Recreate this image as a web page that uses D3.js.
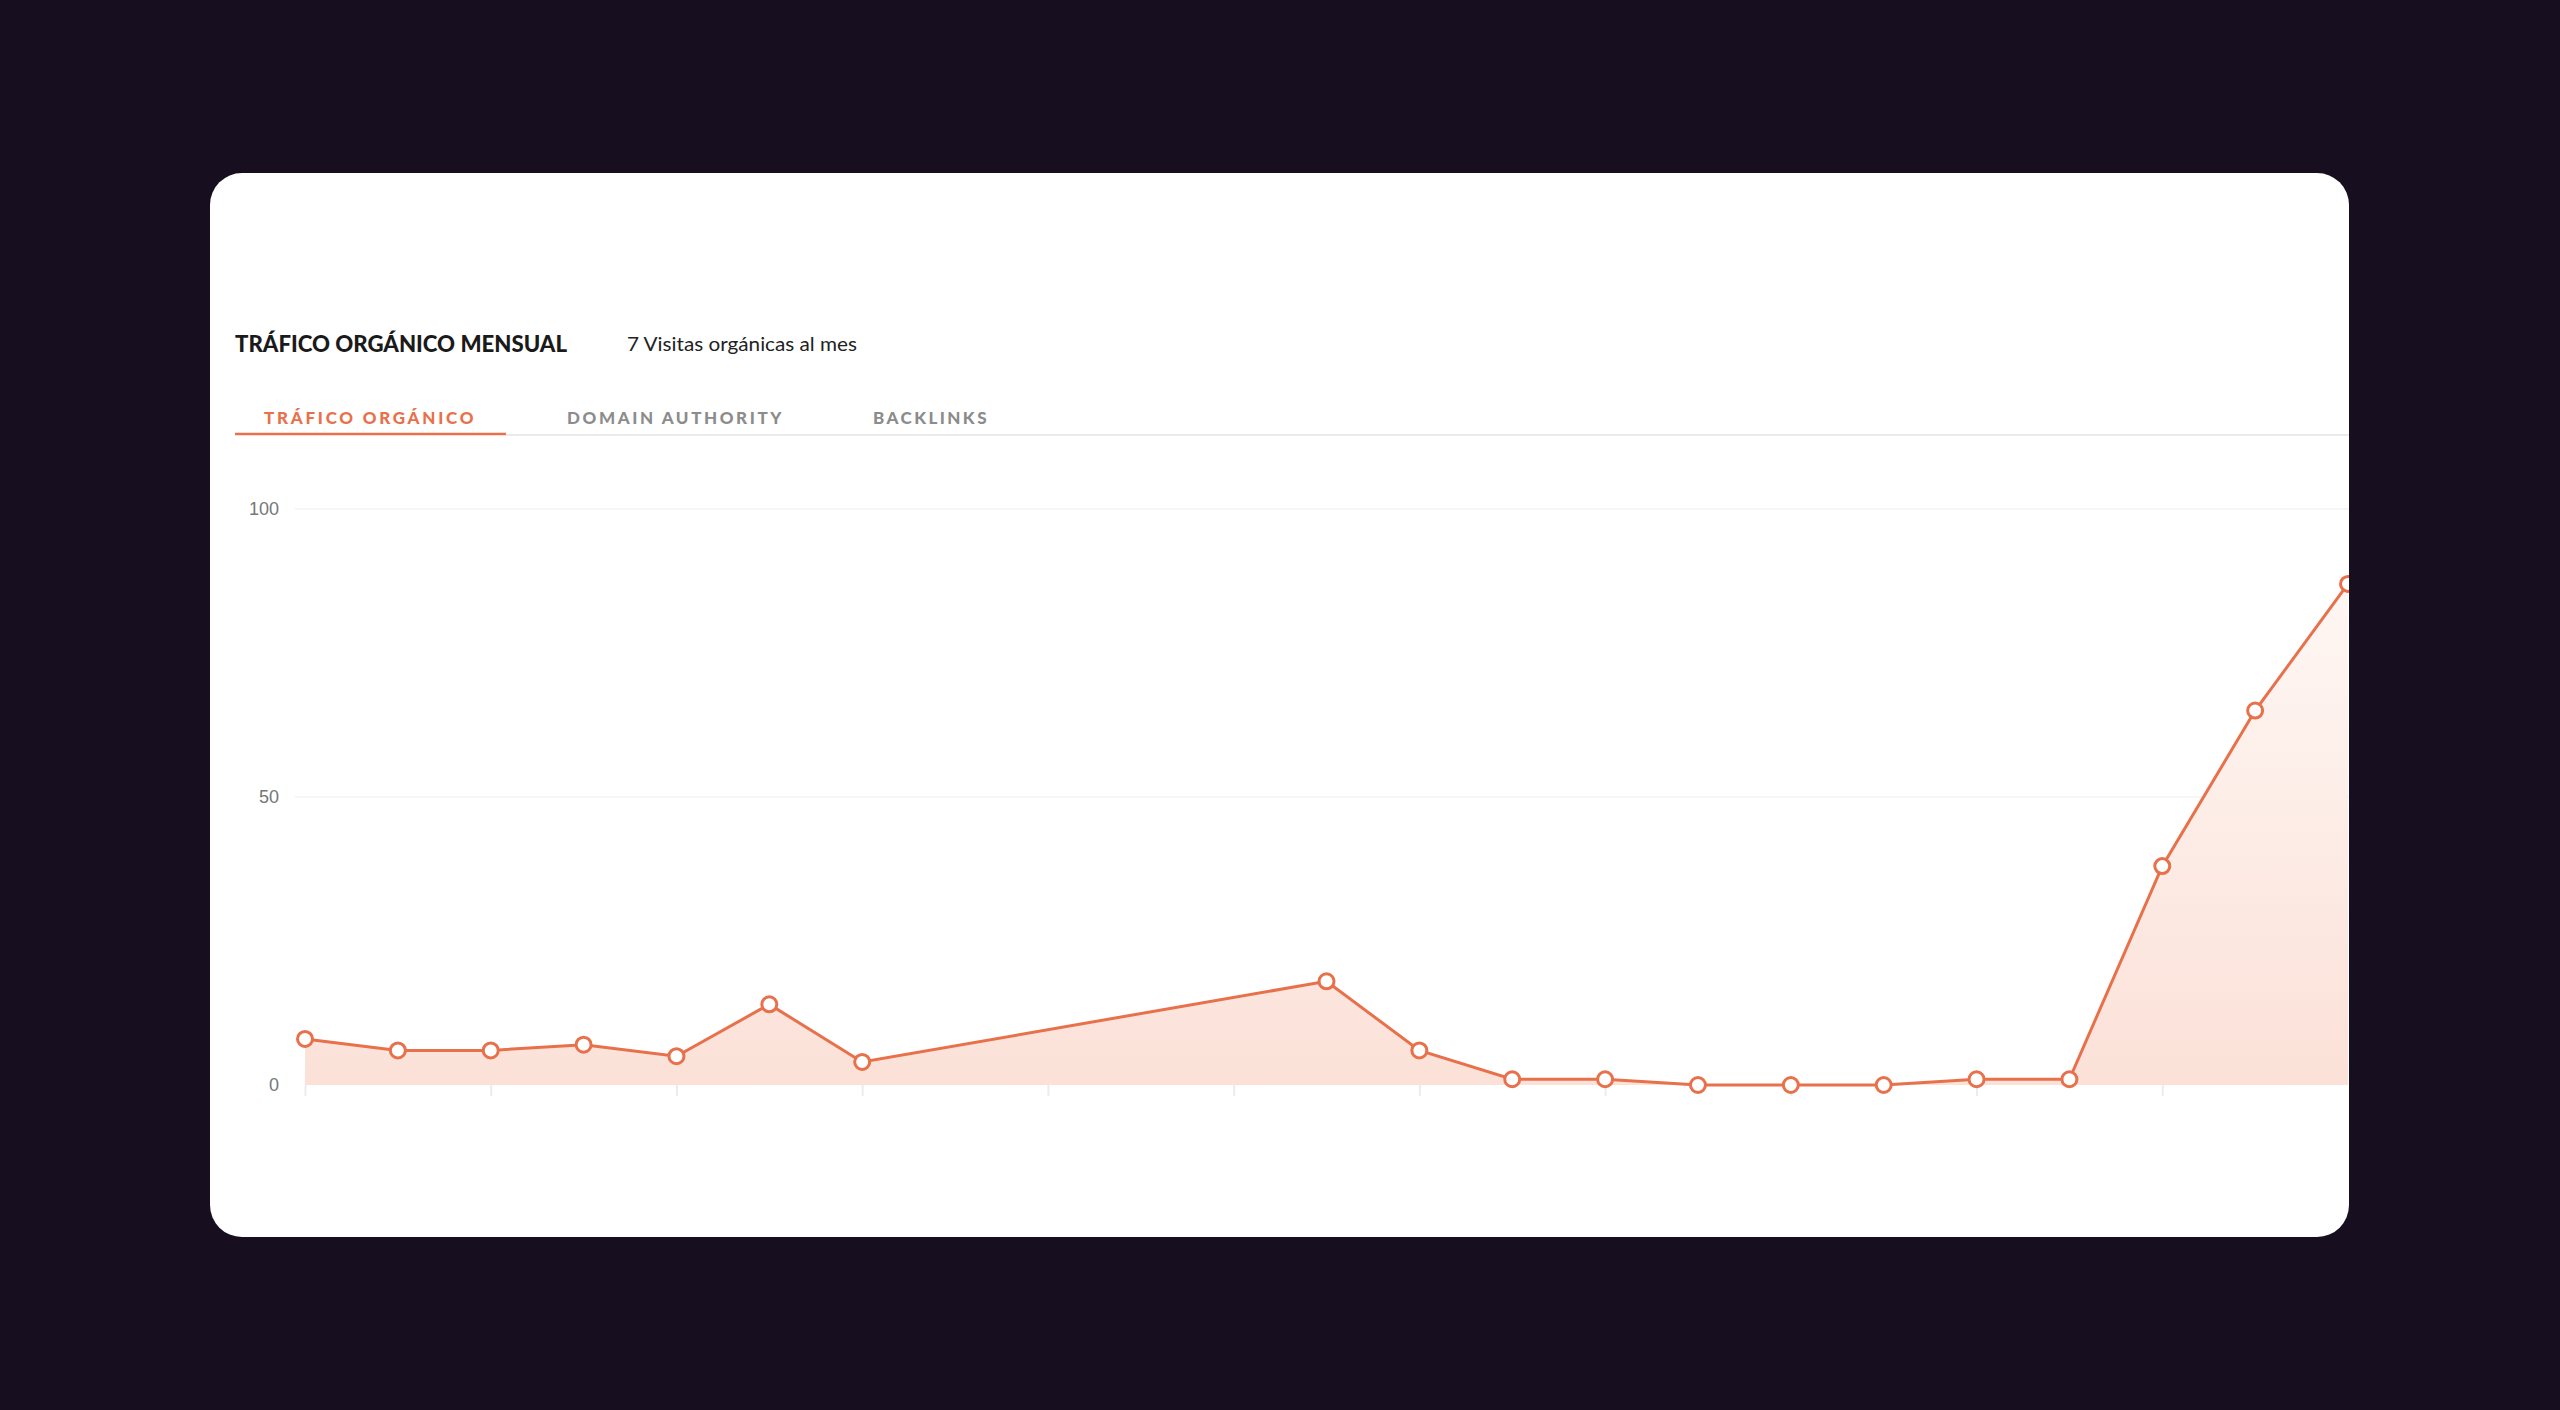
<!DOCTYPE html>
<html lang="es">
<head>
<meta charset="utf-8"/>
<title>Tráfico orgánico mensual</title>
<script src="https://d3js.org/d3.v7.min.js"></script>
<style>
html, body { margin: 0; padding: 0; background: #170f1f; }
svg { display: block; }
.title { font-family: Lato, sans-serif; font-weight: 900; font-size: 22px; fill: #1a1a1a; }
.subtitle { font-family: Lato, sans-serif; font-size: 20px; fill: #222; }
.tab { font-family: Lato, sans-serif; font-weight: 900; font-size: 17px; letter-spacing: 2.5px; fill: #8c8c8c; }
.tab.active { fill: #e8704a; }
.axis text { font-family: "Liberation Sans", Arial, sans-serif; font-size: 18px; fill: #777; }
.axis path { display: none; }
.grid line { stroke: #f6f6f6; stroke-width: 2; }
.xticks line { stroke: #ececec; stroke-width: 2; }
.line { fill: none; stroke: #e8704a; stroke-width: 3; }
.dot { fill: #fff; stroke: #e8704a; stroke-width: 3; }
</style>
</head>
<body>
<div id="chart"></div>
<script>
// data (month index from the first point)
var months = [0, 1, 2, 3, 4, 5, 6, 11, 12, 13, 14, 15, 16, 17, 18, 19, 20, 21, 22];
var visits = [8, 6, 6, 7, 5, 14, 4, 18, 6, 1, 1, 0, 0, 0, 1, 1, 38, 65, 87];
var yTicks = [0, 50, 100];
var xTicks = [0, 2, 4, 6, 8, 10, 12, 14, 16, 18, 20];
var tabs = ["TRÁFICO ORGÁNICO", "DOMAIN AUTHORITY", "BACKLINKS"];

var dataset = months.map(function(m, i){ return {month: m, value: visits[i]}; });

var W = 2560, H = 1410;
var card = {x: 210, y: 173, w: 2139, h: 1064, r: 32};

var svg = d3.select("#chart").append("svg")
            .attr("width", W)
            .attr("height", H);

var defs = svg.append("defs");
defs.append("clipPath").attr("id", "cardClip")
    .append("rect")
    .attr("x", card.x).attr("y", card.y)
    .attr("width", card.w).attr("height", card.h)
    .attr("rx", card.r);

var grad = defs.append("linearGradient")
    .attr("id", "areaFill")
    .attr("gradientUnits", "userSpaceOnUse")
    .attr("x1", 0).attr("x2", 0)
    .attr("y1", 508).attr("y2", 1085);
grad.append("stop").attr("offset", "0%").attr("stop-color", "#fffaf8");
grad.append("stop").attr("offset", "100%").attr("stop-color", "#fbe1d8");

// white card
svg.append("rect")
   .attr("x", card.x).attr("y", card.y)
   .attr("width", card.w).attr("height", card.h)
   .attr("rx", card.r)
   .attr("fill", "#fff");

// heading
svg.append("text").attr("class", "title")
   .attr("x", 235).attr("y", 352)
   .attr("textLength", 332).attr("lengthAdjust", "spacingAndGlyphs")
   .text("TRÁFICO ORGÁNICO MENSUAL");

svg.append("text").attr("class", "subtitle")
   .attr("x", 627).attr("y", 351)
   .attr("textLength", 230).attr("lengthAdjust", "spacingAndGlyphs")
   .text("7 Visitas orgánicas al mes");

// tabs
var tabX = [264, 567, 873];
var tabW = [212, 217, 116];
svg.selectAll(".tab")
   .data(tabs)
   .enter().append("text")
   .attr("class", function(d, i){ return i === 0 ? "tab active" : "tab"; })
   .attr("x", function(d, i){ return tabX[i]; })
   .attr("y", 424)
   .attr("textLength", function(d, i){ return tabW[i]; })
   .text(function(d){ return d; });

svg.append("line")
   .attr("x1", 506).attr("x2", card.x + card.w)
   .attr("y1", 435).attr("y2", 435)
   .attr("stroke", "#ebebeb").attr("stroke-width", 2);

svg.append("line")
   .attr("x1", 235).attr("x2", 506)
   .attr("y1", 434).attr("y2", 434)
   .attr("stroke", "#e8704a").attr("stroke-width", 2.5);

// scales
var xScale = d3.scaleLinear()
               .domain([0, 22])
               .range([305, 2348]);

var yScale = d3.scaleLinear()
               .domain([0, 100])
               .range([1085, 509]);

var chart = svg.append("g").attr("clip-path", "url(#cardClip)");

// grid lines
chart.append("g").attr("class", "grid")
   .selectAll("line")
   .data(yTicks.filter(function(d){ return d > 0; }))
   .enter().append("line")
   .attr("x1", 295).attr("x2", card.x + card.w)
   .attr("y1", function(d){ return yScale(d); })
   .attr("y2", function(d){ return yScale(d); });

// y axis labels
var yAxis = d3.axisLeft(yScale)
              .tickValues(yTicks)
              .tickSize(0)
              .tickPadding(0);

chart.append("g")
   .attr("class", "axis")
   .attr("transform", "translate(279,0)")
   .call(yAxis);

// x ticks (no labels)
var xAxis = d3.axisBottom(xScale)
              .tickValues(xTicks)
              .tickSize(11)
              .tickFormat("");

chart.append("g")
   .attr("class", "axis xticks")
   .attr("transform", "translate(0," + yScale(0) + ")")
   .call(xAxis);

// area + line
var area = d3.area()
             .x(function(d){ return xScale(d.month); })
             .y0(yScale(0))
             .y1(function(d){ return yScale(d.value); });

var line = d3.line()
             .x(function(d){ return xScale(d.month); })
             .y(function(d){ return yScale(d.value); });

chart.append("path")
   .datum(dataset)
   .attr("fill", "url(#areaFill)")
   .attr("d", area);

chart.append("path")
   .datum(dataset)
   .attr("class", "line")
   .attr("d", line);

chart.selectAll(".dot")
   .data(dataset)
   .enter().append("circle")
   .attr("class", "dot")
   .attr("cx", function(d){ return xScale(d.month); })
   .attr("cy", function(d){ return yScale(d.value); })
   .attr("r", 7.5);
</script>
</body>
</html>
